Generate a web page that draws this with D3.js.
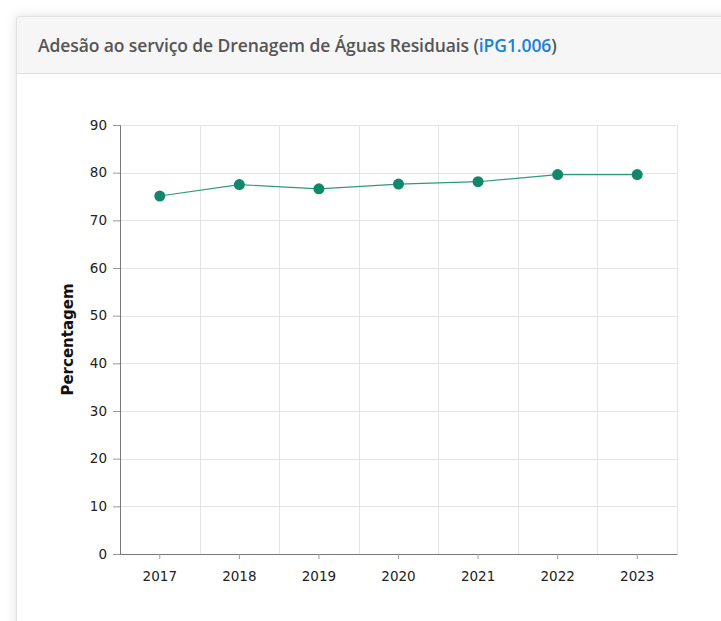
<!DOCTYPE html>
<html>
<head>
<meta charset="utf-8">
<script src="https://cdn.jsdelivr.net/npm/d3@7"></script>
<style>
  body { margin: 0; background: #fff; font-family: "Open Sans", "DejaVu Sans", sans-serif; }
  .panel {
    position: absolute; left: 16px; top: 16px; width: 740px; height: 640px;
    border: 1px solid #e3e3e3; border-radius: 3px; background: #fff;
    box-shadow: 0 0 12px rgba(0,0,0,0.12);
  }
  .panel-head {
    height: 57px; background: #f6f6f6; border-bottom: 1px solid #dedede;
    box-sizing: border-box; padding: 16px 0 0 21px;
    font-size: 17.5px; font-weight: 600; color: #555; letter-spacing: -0.1px;
  }
  .panel-head span { color: #1a7fe0; }
  svg { position: absolute; left: 0; top: 0; }
  .tick text { font-family: Verdana, "DejaVu Sans", sans-serif; font-size: 13.5px; fill: #222; }
</style>
</head>
<body>
<div class="panel"><div class="panel-head">Adesão ao serviço de Drenagem de Águas Residuais (<span>iPG1.006</span>)</div></div>
<svg id="chart" width="721" height="621"></svg>
<script>
// dados do indicador
const years = ["2017", "2018", "2019", "2020", "2021", "2022", "2023"];
const values = [75.1, 77.5, 76.6, 77.6, 78.1, 79.6, 79.6];
const yTicks = [0, 10, 20, 30, 40, 50, 60, 70, 80, 90];

const margin = { top: 125, right: 44, bottom: 67, left: 120 };
const width = 721, height = 621;

const svg = d3.select("#chart");

const x = d3.scaleBand().domain(years).range([margin.left, width - margin.right]);
const y = d3.scaleLinear().domain([0, 90]).range([height - margin.bottom, margin.top]);

// grelha horizontal
svg.append("g").selectAll("line")
  .data(yTicks).enter().append("line")
  .attr("x1", margin.left).attr("x2", width - margin.right)
  .attr("y1", d => Math.round(y(d)) + 0.5).attr("y2", d => Math.round(y(d)) + 0.5)
  .style("stroke", "#e4e4e4");

// grelha vertical, entre categorias
svg.append("g").selectAll("line")
  .data(years).enter().append("line")
  .attr("x1", d => Math.round(x(d) + x.bandwidth()) + 0.5)
  .attr("x2", d => Math.round(x(d) + x.bandwidth()) + 0.5)
  .attr("y1", margin.top).attr("y2", height - margin.bottom)
  .style("stroke", "#e4e4e4");

// eixos
const yAxis = svg.append("g")
  .attr("transform", "translate(" + margin.left + ",0)")
  .call(d3.axisLeft(y).tickValues(yTicks).tickSize(7).tickPadding(6));
yAxis.select(".domain").attr("stroke", "#777");
yAxis.selectAll(".tick line").attr("stroke", "#999");

const xAxis = svg.append("g")
  .attr("transform", "translate(0," + (height - margin.bottom) + ")")
  .call(d3.axisBottom(x).tickSize(5).tickSizeOuter(0).tickPadding(12));
xAxis.select(".domain").attr("stroke", "#777");
xAxis.selectAll(".tick line").attr("stroke", "#999");

// titulo do eixo y
svg.append("text")
  .attr("transform", "translate(73," + ((margin.top + height - margin.bottom) / 2) + ") rotate(-90)")
  .attr("text-anchor", "middle")
  .style("font-family", "Verdana, 'DejaVu Sans', sans-serif")
  .style("font-size", "15px")
  .style("font-weight", "bold")
  .style("fill", "#111")
  .text("Percentagem");

// linha
const line = d3.line()
  .x((d, i) => x(years[i]) + x.bandwidth() / 2)
  .y(d => y(d));

svg.append("path")
  .datum(values)
  .attr("d", line)
  .style("fill", "none")
  .style("stroke", "#2e9a7c")
  .style("stroke-width", 1.2);

svg.append("g").selectAll("circle")
  .data(values).enter().append("circle")
  .attr("cx", (d, i) => x(years[i]) + x.bandwidth() / 2)
  .attr("cy", d => y(d))
  .attr("r", 5.5)
  .style("fill", "#12876a");
</script>
</body>
</html>
